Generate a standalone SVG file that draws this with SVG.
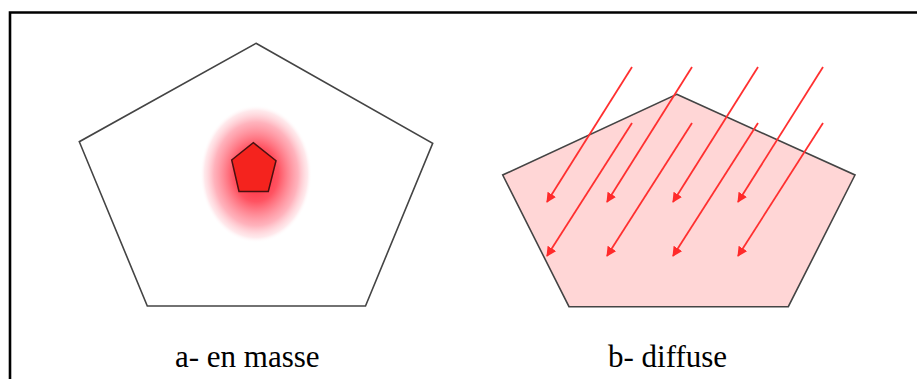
<svg xmlns="http://www.w3.org/2000/svg" width="917" height="379" viewBox="0 0 917 379">
  <defs>
    <radialGradient id="glow" cx="0.5" cy="0.5" r="0.5">
      <stop offset="0" stop-color="#ff1a2e" stop-opacity="1"/>
      <stop offset="0.4" stop-color="#ff4050" stop-opacity="0.9"/>
      <stop offset="0.75" stop-color="#ff8090" stop-opacity="0.6"/>
      <stop offset="0.92" stop-color="#ffc0c8" stop-opacity="0.35"/>
      <stop offset="1" stop-color="#ffffff" stop-opacity="0"/>
    </radialGradient>
    <marker id="ah" viewBox="0 0 10 10" refX="9" refY="5" markerWidth="10" markerHeight="10" markerUnits="userSpaceOnUse" orient="auto">
      <path d="M0,0 L10,5 L0,10 Z" fill="#ff2a2a"/>
    </marker>
    <style>
      .pent { fill: #ffffff; stroke: #444444; stroke-width: 1.6; }
      .pentB { fill: #ffd6d6; stroke: #444444; stroke-width: 1.6; }
      .core { fill: #f4231e; stroke: #4a1010; stroke-width: 1.5; }
      .arrow { stroke: #ff3030; stroke-width: 1.8; fill: none; marker-end: url(#ah); }
      .frame { fill: none; stroke: #000000; stroke-width: 2.6; }
    </style>
  </defs>
  <rect width="917" height="379" fill="#ffffff"/>
  <path class="frame" d="M10,379 L10,12.5 L917,12.5"/>

  <g id="node-a">
    <polygon class="pent" points="256,43.3 432.7,143.3 365.5,306 147.3,306 79.3,141.7"/>
    <ellipse cx="256" cy="174" rx="56" ry="69" fill="url(#glow)"/>
    <polygon class="core" points="253.3,142.7 276,160.7 268.3,191.5 239,191.5 231.7,160"/>
    <text x="175" y="367" font-family="Liberation Serif, DejaVu Serif, serif" font-size="31" fill="#000000">a- en masse</text>
  </g>

  <g id="node-b">
    <polygon class="pentB" points="676.7,94.3 855,175 788.3,306.7 569,306.7 502.7,175"/>
    <text x="608" y="367" font-family="Liberation Serif, DejaVu Serif, serif" font-size="31" fill="#000000">b- diffuse</text>
  </g>

  <g id="connectors">
    <line class="arrow" x1="632" y1="67" x2="547" y2="202"/>
    <line class="arrow" x1="692" y1="67" x2="607" y2="202"/>
    <line class="arrow" x1="758" y1="67" x2="673" y2="202"/>
    <line class="arrow" x1="823" y1="67" x2="738" y2="202"/>
    <line class="arrow" x1="632" y1="123" x2="547" y2="256"/>
    <line class="arrow" x1="692" y1="123" x2="607" y2="256"/>
    <line class="arrow" x1="758" y1="123" x2="673" y2="256"/>
    <line class="arrow" x1="823" y1="123" x2="738" y2="256"/>
  </g>
</svg>
